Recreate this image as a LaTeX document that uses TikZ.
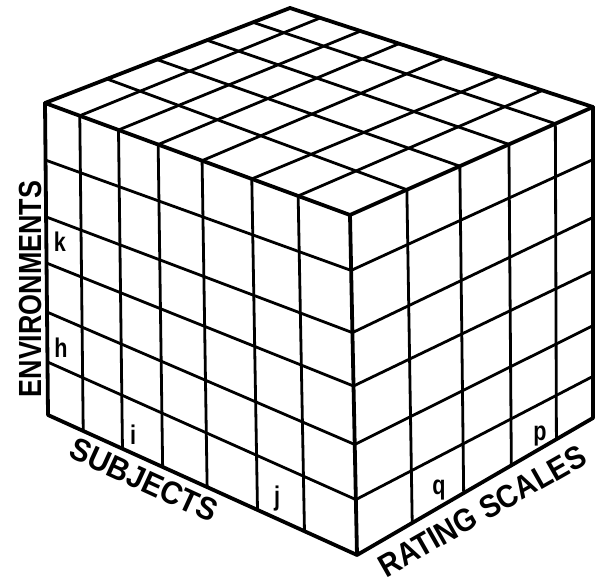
\documentclass[tikz,border=0pt]{standalone}
\usepackage{fontspec}
\setmainfont{Liberation Sans}
\usetikzlibrary{calc}
\begin{document}
\begin{tikzpicture}[x=1pt,y=-1pt,
  edge/.style={line width=3.8pt, line cap=round, line join=round},
  gridline/.style={line width=2.8pt, line cap=round},
  lbl/.style={font=\fontsize{32}{34}\selectfont\bfseries, inner sep=0pt},
  small/.style={font=\fontsize{27}{28}\selectfont\bfseries, inner sep=0pt, anchor=base}]
\useasboundingbox (0,0) rectangle (595,585);
\coordinate (A) at (45,103);
\coordinate (B) at (48,415);
\coordinate (C) at (350,215);
\coordinate (D) at (357,555);
\coordinate (E) at (290,8);
\coordinate (F) at (593,107);
\coordinate (G) at (593,418);
% left face columns
\foreach \f in {.114,.241,.371,.515,.678,.83}
  \draw[gridline] ($(A)!\f!(C)$) -- ($(B)!\f!(D)$);
% left face rows
\foreach \a/\b in {.183/.163,.365/.346,.513/.503,.67/.675,.83/.837}
  \draw[gridline] ($(A)!\a!(B)$) -- ($(C)!\b!(D)$);
% right face columns
\foreach \f in {.234,.452,.654,.845}
  \draw[gridline] ($(C)!\f!(F)$) -- ($(D)!\f!(G)$);
% right face rows
\foreach \a/\b in {.163/.169,.346/.355,.503/.527,.675/.703,.837/.866}
  \draw[gridline] ($(C)!\a!(D)$) -- ($(F)!\b!(G)$);
% top face
\foreach \a/\b in {.114/.10,.241/.233,.371/.36,.515/.507,.678/.69,.83/.833}
  \draw[gridline] ($(A)!\a!(C)$) -- ($(E)!\b!(F)$);
\foreach \a/\b in {.253/.234,.457/.452,.661/.654,.849/.845}
  \draw[gridline] ($(A)!\a!(E)$) -- ($(C)!\b!(F)$);
% outline
\draw[edge] (A) -- (E) -- (F) -- (G) -- (D) -- (B) -- cycle;
\draw[edge] (A) -- (C) -- (D);
\draw[edge] (C) -- (F);
% labels
\node[lbl, rotate=90] (env) at (30,289) {\scalebox{.84}[1]{ENVIRONMENTS}};
\node[lbl, rotate=-24.6] (subj) at (144,480) {\scalebox{.93}[1]{SUBJECTS}};
\node[lbl, rotate=29.6] (rate) at (482,511) {\scalebox{.9}[1]{RATING SCALES}};
\node[small] (k) at (60,252) {\scalebox{.8}[1]{k}};
\node[small] (h) at (61,358) {\scalebox{.8}[1]{h}};
\node[small] (i) at (133,445) {\scalebox{.8}[1]{i}};
\node[small] (j) at (277,506) {\scalebox{.8}[1]{j}};
\node[small] (q) at (439,494) {\scalebox{.8}[1]{q}};
\node[small] (p) at (540,441) {\scalebox{.8}[1]{p}};
\end{tikzpicture}
\end{document}
